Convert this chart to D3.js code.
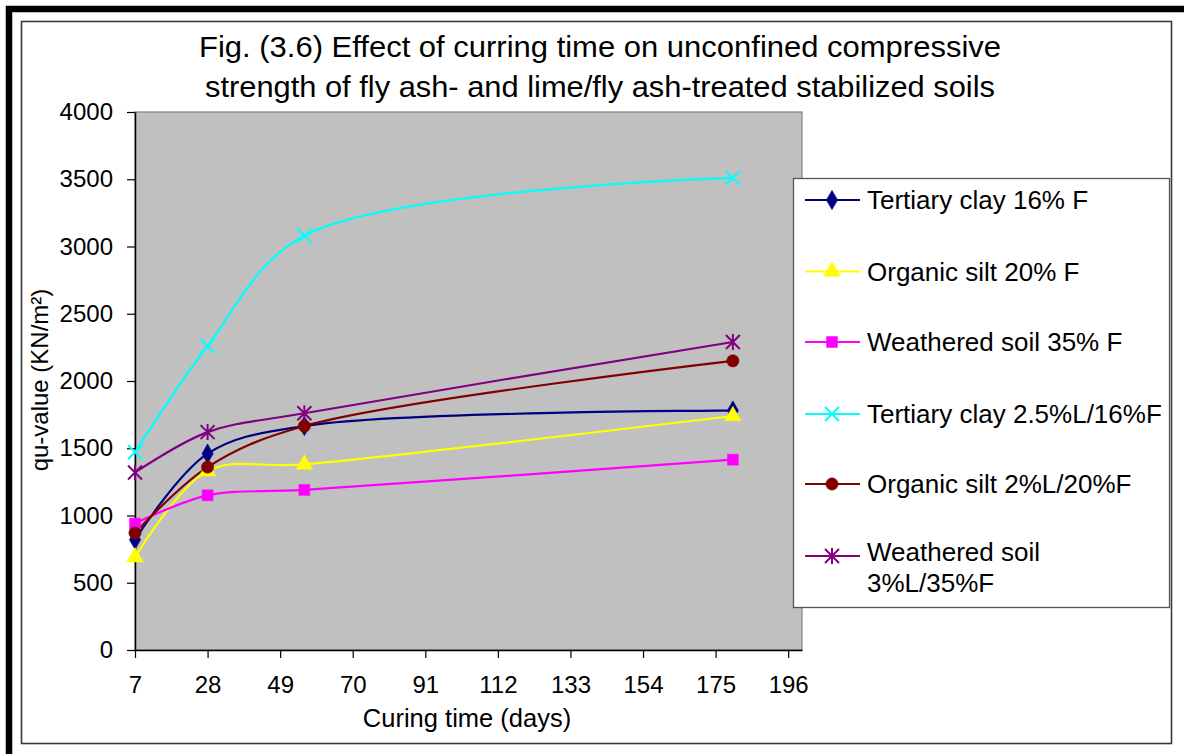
<!DOCTYPE html>
<html>
<head>
<meta charset="utf-8">
<script src="https://cdn.jsdelivr.net/npm/d3@7"></script>
<style>
  html, body { margin: 0; padding: 0; background: #fff; }
  svg { display: block; font-family: "Liberation Sans", Arial, sans-serif; }
</style>
</head>
<body>
<svg id="chart" width="1184" height="754"></svg>
<script>
// Curing times (days) at which specimens were tested
const curingDays = [7, 28, 56, 180];

// Unconfined compressive strength, qu (kN/m²), per mix
const tertiaryClay16F      = [820, 1460, 1665, 1780];
const organicSilt20F       = [690, 1330, 1380, 1740];
const weatheredSoil35F     = [940, 1150, 1190, 1415];
const tertiaryClayL25F16   = [1470, 2260, 3080, 3510];
const organicSiltL2F20     = [870, 1360, 1665, 2150];
const weatheredSoilL3F35   = [1320, 1620, 1760, 2290];

const seriesNames = [
  ["Tertiary clay 16% F"],
  ["Organic silt 20% F"],
  ["Weathered soil 35% F"],
  ["Tertiary clay 2.5%L/16%F"],
  ["Organic silt 2%L/20%F"],
  ["Weathered soil", "3%L/35%F"]
];
const seriesColors = ["#000080", "#FFFF00", "#FF00FF", "#00FFFF", "#800000", "#800080"];
const seriesMarkers = ["diamond", "triangle", "square", "cross", "circle", "star"];

const xTickValues = [7, 28, 49, 70, 91, 112, 133, 154, 175, 196];
const yTickValues = [0, 500, 1000, 1500, 2000, 2500, 3000, 3500, 4000];

const titleLines = [
  "Fig. (3.6) Effect of curring time on unconfined compressive",
  "strength of fly ash- and lime/fly ash-treated stabilized soils"
];

const seriesValues = [tertiaryClay16F, organicSilt20F, weatheredSoil35F,
                      tertiaryClayL25F16, organicSiltL2F20, weatheredSoilL3F35];
const series = seriesValues.map((vals, i) => ({
  name: seriesNames[i],
  color: seriesColors[i],
  marker: seriesMarkers[i],
  points: vals.map((v, j) => ({ x: curingDays[j], y: v }))
}));

const svg = d3.select("#chart");

// Outer frame: heavy black rule on top and left, thin chart border inside
svg.append("rect").attr("x", 9).attr("y", 9).attr("width", 1300).attr("height", 900)
  .attr("fill", "none").attr("stroke", "#000").attr("stroke-width", 6.5);
svg.append("rect").attr("x", 21.5).attr("y", 21.5).attr("width", 1150).attr("height", 722)
  .attr("fill", "#fff").attr("stroke", "#3a3a3a").attr("stroke-width", 1.6);

// Plot area
const plot = { left: 135, right: 802, top: 112, bottom: 650 };
const x = d3.scaleLinear().domain([7, 200]).range([plot.left, plot.right]);
const y = d3.scaleLinear().domain([0, 4000]).range([plot.bottom, plot.top]);

svg.append("rect")
  .attr("x", plot.left).attr("y", plot.top)
  .attr("width", plot.right - plot.left).attr("height", plot.bottom - plot.top)
  .attr("fill", "#C0C0C0").attr("stroke", "#808080").attr("stroke-width", 1.2);

// Title (two centred lines)
const titleWidths = [802, 790];
svg.append("g").selectAll("text").data(titleLines).join("text")
  .attr("x", 600).attr("y", (d, i) => 57 + i * 40)
  .attr("text-anchor", "middle").attr("font-size", 29).attr("fill", "#000")
  .attr("textLength", (d, i) => titleWidths[i]).attr("lengthAdjust", "spacingAndGlyphs")
  .text(d => d);

// Axes
const xAxis = svg.append("g").attr("transform", `translate(0,${plot.bottom})`)
  .call(d3.axisBottom(x).tickValues(xTickValues).tickFormat(d3.format("d"))
    .tickSizeInner(8).tickSizeOuter(0).tickPadding(18));
const yAxis = svg.append("g").attr("transform", `translate(${plot.left},0)`)
  .call(d3.axisLeft(y).tickValues(yTickValues).tickFormat(d3.format("d"))
    .tickSizeInner(8).tickSizeOuter(0).tickPadding(14));
[xAxis, yAxis].forEach(g => {
  g.select(".domain").attr("stroke", "#000").attr("stroke-width", 1.5);
  g.selectAll(".tick line").attr("stroke", "#000").attr("stroke-width", 1.2);
  g.selectAll(".tick text").attr("font-size", 24).attr("fill", "#000")
    .attr("font-family", "'Liberation Sans', Arial, sans-serif");
});

// Axis titles
svg.append("text").attr("x", 467).attr("y", 727).attr("text-anchor", "middle")
  .attr("font-size", 25.5).attr("fill", "#000").text("Curing time (days)");
svg.append("text").attr("transform", "translate(48,380) rotate(-90)")
  .attr("text-anchor", "middle").attr("font-size", 24).attr("fill", "#000")
  .text("qu-value (KN/m²)");

// Marker shapes
function markerPath(type) {
  switch (type) {
    case "diamond":  return d3.symbol(d3.symbolDiamond, 110)();
    case "triangle": return d3.symbol(d3.symbolTriangle, 120)();
    case "square":   return d3.symbol(d3.symbolSquare, 120)();
    case "circle":   return d3.symbol(d3.symbolCircle, 120)();
    case "cross":    return "M-7,-7L7,7M-7,7L7,-7";
    case "star":     return "M-7,-7L7,7M-7,7L7,-7M0,-8L0,8";
  }
}
function drawMarker(g, type, color) {
  const stroked = type === "cross" || type === "star";
  g.append("path").attr("d", markerPath(type))
    .attr("fill", stroked ? "none" : color)
    .attr("stroke", color)
    .attr("stroke-width", stroked ? 2 : 0.5);
}

// Smoothed series lines
const line = d3.line().x(d => x(d.x)).y(d => y(d.y)).curve(d3.curveCatmullRom.alpha(0.5));
const seriesG = svg.append("g");
series.forEach(s => {
  seriesG.append("path").datum(s.points).attr("d", line)
    .attr("fill", "none").attr("stroke", s.color).attr("stroke-width", 2.2);
});
series.forEach(s => {
  s.points.forEach(p => {
    const g = seriesG.append("g").attr("transform", `translate(${x(p.x)},${y(p.y)})`);
    drawMarker(g, s.marker, s.color);
  });
});

// Legend
const legend = svg.append("g");
legend.append("rect").attr("x", 793.5).attr("y", 178.5).attr("width", 376).attr("height", 429)
  .attr("fill", "#fff").attr("stroke", "#555").attr("stroke-width", 1.3);
const legendRowY = [200, 271.5, 342, 414, 484, 556];
series.forEach((s, i) => {
  const cy = legendRowY[i];
  const row = legend.append("g");
  row.append("line").attr("x1", 805).attr("x2", 860).attr("y1", cy).attr("y2", cy)
    .attr("stroke", s.color).attr("stroke-width", 2.2);
  const m = row.append("g").attr("transform", `translate(832,${cy})`);
  drawMarker(m, s.marker, s.color);
  const startY = s.name.length > 1 ? cy - 4 : cy;
  s.name.forEach((t, k) => {
    row.append("text").attr("x", 867).attr("y", startY + k * 31)
      .attr("dy", "0.35em").attr("font-size", 26).attr("fill", "#000").text(t);
  });
});
</script>
</body>
</html>
